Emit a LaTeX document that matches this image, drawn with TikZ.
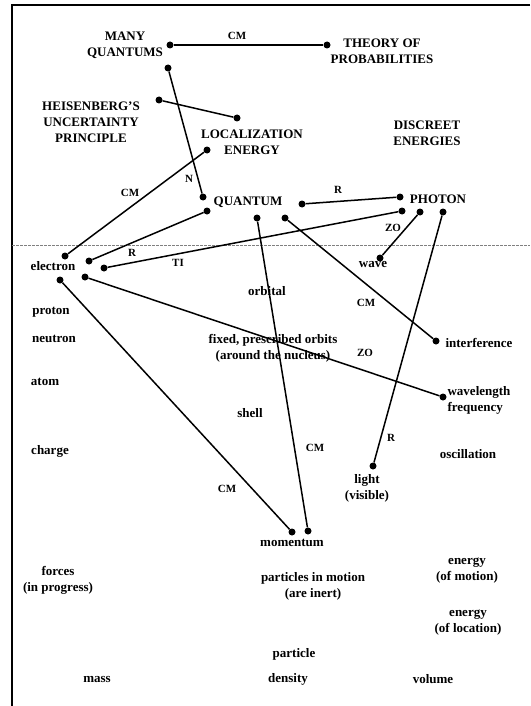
\documentclass[tikz,border=0pt]{standalone}
\usepackage{fontspec}
\setmainfont{Liberation Serif}
\tikzstyle{dot}=[circle,fill=black,minimum size=7pt,inner sep=0pt]
\tikzstyle{term}=[font=\fontsize{13}{16}\selectfont\bfseries,align=center,inner sep=0pt]
\tikzstyle{rel}=[font=\fontsize{11}{13}\selectfont\bfseries,inner sep=0pt]
\tikzstyle{link}=[line width=1.5pt]

\begin{document}
\begin{tikzpicture}[x=1pt,y=-1pt]
          \useasboundingbox (0, 0) rectangle (530, 706);
          \draw[line width=1.5pt] (530, 5) -- (12, 5) -- (12, 706);
          \draw[gray, dashed, dash pattern=on 2.5pt off 1.5pt] (12, 245) -- (530, 245);

          % terms
          \node[term] at (125, 45) (manyq) {MANY\\QUANTUMS};
          \node[term] at (382, 51) (theory) {THEORY OF\\PROBABILITIES};
          \node[term] at (91, 122) (heis) {HEISENBERG'S\\UNCERTAINTY\\PRINCIPLE};
          \node[term] at (252, 142) (local) {LOCALIZATION\\ENERGY};
          \node[term] at (427, 133) (discreet) {DISCREET\\ENERGIES};
          \node[term] at (248, 202) (quantum) {QUANTUM};
          \node[term] at (438, 199) (photon) {PHOTON};
          \node[term] at (53, 266) (electron) {electron};
          \node[term] at (373, 265) (wave) {wave};
          \node[term] at (267, 291) (orbital) {orbital};
          \node[term] at (51, 312) (proton) {proton};
          \node[term] at (54, 339) (neutron) {neutron};
          \node[term] at (273, 348) (orbits) {fixed, prescribed orbits\\(around the nucleus)};
          \node[term] at (479, 343) (interf) {interference};
          \node[term] at (45, 382) (atom) {atom};
          \node[term, align=left] at (479, 400) (wavelen) {wavelength\\frequency};
          \node[term] at (250, 413) (shell) {shell};
          \node[term] at (50, 451) (charge) {charge};
          \node[term] at (468, 454) (oscill) {oscillation};
          \node[term] at (367, 488) (light) {light\\(visible)};
          \node[term] at (292, 543) (momentum) {momentum};
          \node[term] at (58, 580) (forces) {forces\\(in progress)};
          \node[term] at (313, 586) (motion) {particles in motion\\(are inert)};
          \node[term] at (467, 571) (ekin) {energy\\(of motion)};
          \node[term] at (468, 623) (epot) {energy\\(of location)};
          \node[term] at (294, 654) (particle) {particle};
          \node[term] at (97, 679) (mass) {mass};
          \node[term] at (288, 679) (density) {density};
          \node[term] at (433, 679) (volume) {volume};

          % end points
          \node[dot] at (170, 45) (mq1) {};
          \node[dot] at (327, 45) (th1) {};
          \node[dot] at (168, 68) (mq2) {};
          \node[dot] at (159, 100) (he1) {};
          \node[dot] at (237, 118) (lo1) {};
          \node[dot] at (207, 150) (lo2) {};
          \node[dot] at (203, 197) (qu1) {};
          \node[dot] at (207, 211) (qu2) {};
          \node[dot] at (257, 218) (qu3) {};
          \node[dot] at (285, 218) (qu4) {};
          \node[dot] at (302, 204) (qu5) {};
          \node[dot] at (400, 197) (ph1) {};
          \node[dot] at (402, 211) (ph2) {};
          \node[dot] at (420, 212) (ph3) {};
          \node[dot] at (443, 212) (ph4) {};
          \node[dot] at (65, 256) (el1) {};
          \node[dot] at (89, 261) (el2) {};
          \node[dot] at (104, 268) (el3) {};
          \node[dot] at (85, 277) (el4) {};
          \node[dot] at (60, 280) (el5) {};
          \node[dot] at (380, 258) (wa1) {};
          \node[dot] at (436, 341) (in1) {};
          \node[dot] at (443, 397) (wl1) {};
          \node[dot] at (373, 466) (li1) {};
          \node[dot] at (292, 532) (mo1) {};
          \node[dot] at (308, 531) (mo2) {};

          \draw[link] (mq1) edge (th1);
          \draw[link] (mq2) edge (qu1);
          \draw[link] (he1) edge (lo1);
          \draw[link] (lo2) edge (el1);
          \draw[link] (qu5) edge (ph1);
          \draw[link] (qu2) edge (el2);
          \draw[link] (ph2) edge (el3);
          \draw[link] (ph3) edge (wa1);
          \draw[link] (ph4) edge (li1);
          \draw[link] (qu3) edge (mo2);
          \draw[link] (qu4) edge (in1);
          \draw[link] (el4) edge (wl1);
          \draw[link] (el5) edge (mo1);

          % relation labels
          \node[rel] at (237, 36) (r1) {CM};
          \node[rel] at (189, 179) (r2) {N};
          \node[rel] at (130, 193) (r3) {CM};
          \node[rel] at (338, 190) (r4) {R};
          \node[rel] at (132, 253) (r5) {R};
          \node[rel] at (178, 263) (r6) {TI};
          \node[rel] at (393, 228) (r7) {ZO};
          \node[rel] at (391, 438) (r8) {R};
          \node[rel] at (366, 303) (r9) {CM};
          \node[rel] at (365, 353) (r10) {ZO};
          \node[rel] at (227, 489) (r11) {CM};
          \node[rel] at (315, 448) (r12) {CM};
\end{tikzpicture}
\end{document}
